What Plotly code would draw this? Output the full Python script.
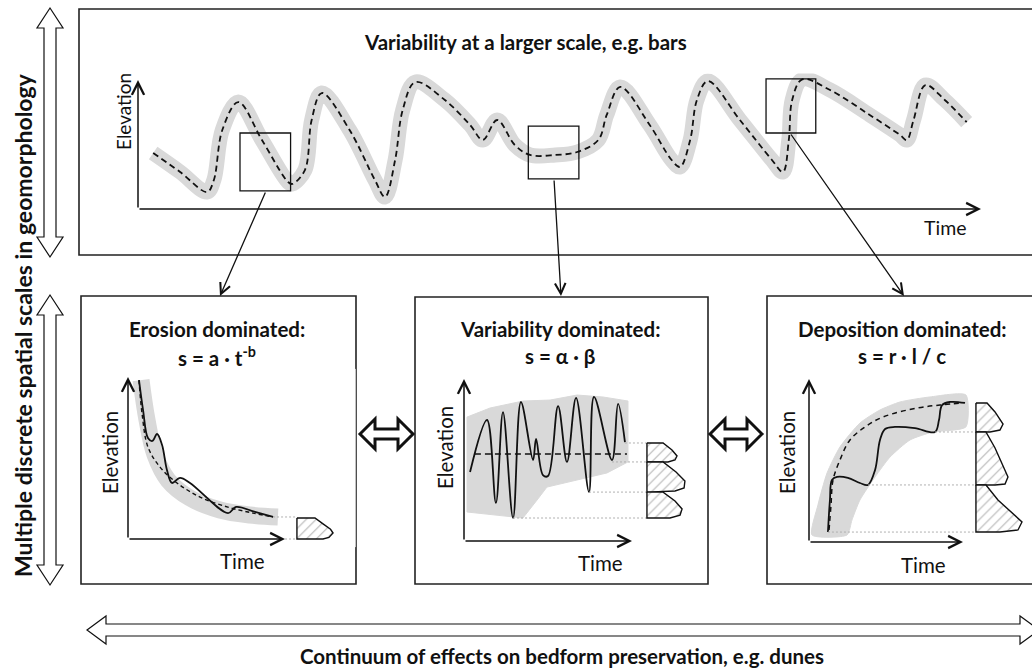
import plotly.graph_objects as go

W, H = 1032, 668

# ---------------- data ----------------
# top panel: large-scale elevation record (time 0-10, elevation 0-10)
TOP_TIME = [0.18, 0.50, 0.82, 0.90, 1.00, 1.19, 1.47, 1.78, 1.83, 1.98, 2.06, 2.18,
            2.51, 2.81, 2.93, 3.05, 3.14, 3.29, 3.64, 3.94, 4.09, 4.26, 4.47, 4.65,
            4.95, 5.21, 5.46, 5.56, 5.72, 6.07, 6.33, 6.43, 6.55, 6.63, 6.76, 7.14,
            7.52, 7.65, 7.72, 7.76, 7.88, 8.21, 8.68, 9.04, 9.12, 9.20, 9.34, 9.57, 9.83]
TOP_ELEV = [4.34, 2.87, 1.32, 2.25, 6.12, 8.29, 5.35, 2.09, 1.94, 3.02, 6.90, 8.99,
            6.12, 2.25, 0.93, 3.80, 7.67, 9.84, 8.45, 6.51, 5.35, 6.90, 4.96, 4.19,
            4.19, 4.42, 5.35, 7.29, 9.46, 6.51, 3.80, 3.26, 5.35, 8.45, 9.92, 6.90,
            3.80, 2.87, 5.35, 8.45, 10.05, 9.22, 7.29, 5.74, 5.35, 6.90, 9.61, 8.45, 6.74]
# zoom windows on the top record: [t0, t1, e0, e1]
ZOOM_BOXES = [[1.21, 1.81, 1.40, 5.89], [4.63, 5.23, 2.33, 6.43], [7.45, 8.04, 5.89, 10.08]]

# erosion dominated panel
ERO_DASH_T = [0.70, 0.89, 1.27, 2.04, 3.12, 4.59, 6.31, 7.96, 9.24]
ERO_DASH_E = [9.81, 7.78, 5.68, 4.44, 3.46, 2.59, 1.98, 1.60, 1.36]
ERO_SOLID_T = [0.70, 0.96, 1.27, 1.55, 1.85, 2.17, 2.48, 2.80, 3.31, 3.95, 6.37, 6.88, 8.09, 9.24]
ERO_SOLID_E = [9.81, 7.96, 6.23, 6.05, 6.48, 5.80, 4.26, 3.46, 3.77, 3.46, 1.60, 1.98, 1.67, 1.36]
ERO_BAND_T = [0.83, 1.21, 1.72, 2.55, 3.95, 5.86, 7.77, 9.55]
ERO_BAND_E = [9.81, 7.35, 5.19, 3.64, 2.53, 1.79, 1.48, 1.36]
ERO_HATCH_T = [[10.76, 11.91, 12.40, 12.90, 13.06, 12.80, 12.42, 10.76, 10.76]]
ERO_HATCH_E = [[1.30, 1.30, 0.95, 0.60, 0.37, 0.10, 0.00, 0.00, 1.30]]
ERO_GUIDES = [[9.24, 1.36], [10.0, 0.0]]   # [start time, level] of dotted guides

# variability dominated panel
VAR_T = [0.36, 1.37, 1.90, 2.32, 2.92, 3.39, 4.11, 4.29, 4.70, 5.00, 5.60, 6.13,
         6.67, 7.44, 7.74, 8.81, 9.17, 9.58]
VAR_E = [4.26, 7.47, 2.35, 7.96, 1.42, 8.58, 5.00, 6.30, 4.07, 4.01, 8.33, 4.88,
         8.83, 3.02, 8.89, 5.00, 8.46, 6.11]
VAR_MEAN_T = [0.65, 9.70]
VAR_MEAN_E = [5.37, 5.37]
VAR_BAND_T = [0.18, 1.55, 3.51, 5.12, 6.73, 8.27, 9.76, 9.76, 8.51, 6.73, 4.94, 4.35, 3.51, 0.18, 0.18]
VAR_BAND_E = [7.65, 8.21, 8.64, 8.70, 9.01, 8.89, 8.64, 4.88, 4.20, 3.77, 3.33, 2.53, 1.42, 1.79, 7.65]
VAR_HATCH_T = [[10.89, 11.85, 12.38, 12.68, 12.56, 12.14, 10.89, 10.89],
               [10.89, 11.85, 12.62, 13.15, 13.10, 12.56, 10.89, 10.89],
               [10.89, 11.85, 12.56, 12.98, 12.86, 12.26, 10.89, 10.89]]
VAR_HATCH_E = [[6.05, 6.05, 5.62, 5.25, 5.00, 4.88, 4.88, 6.05],
               [4.88, 4.88, 4.26, 3.70, 3.27, 3.09, 3.02, 4.88],
               [3.02, 3.02, 2.47, 1.98, 1.60, 1.42, 1.42, 3.02]]
VAR_GUIDES = [[9.58, 6.05], [8.81, 4.88], [7.44, 3.02], [2.92, 1.42]]

# deposition dominated panel
DEP_DASH_T = [1.30, 1.43, 1.56, 2.01, 2.66, 3.64, 4.81, 7.01, 8.51, 10.0]
DEP_DASH_E = [0.74, 2.27, 3.80, 5.03, 6.26, 7.06, 7.67, 8.22, 8.40, 8.53]
DEP_SOLID_T = [1.23, 1.36, 1.49, 1.82, 2.53, 3.31, 3.83, 4.29, 4.61, 4.94, 5.58, 6.88,
               8.18, 8.44, 8.64, 9.16, 10.13]
DEP_SOLID_E = [0.61, 2.58, 3.80, 3.99, 3.93, 3.62, 3.50, 4.42, 6.26, 6.93, 7.06, 6.99,
               6.75, 7.48, 8.40, 8.59, 8.53]
DEP_BAND_T = [0.19, 0.58, 1.17, 2.01, 3.31, 4.61, 5.91, 7.86, 10.19, 10.19, 8.05, 6.56,
              5.26, 4.29, 3.31, 2.79, 2.47, 0.19]
DEP_BAND_E = [0.43, 2.27, 4.23, 5.83, 7.30, 8.10, 8.59, 8.90, 9.02, 7.06, 6.75, 6.26,
              5.21, 3.99, 2.58, 1.35, 0.43, 0.43]
DEP_HATCH_T = [[10.84, 11.56, 12.08, 12.60, 12.40, 11.75, 10.84, 10.84],
               [10.84, 11.49, 12.08, 12.60, 12.92, 12.73, 12.08, 10.84, 10.84],
               [10.84, 11.49, 12.27, 13.38, 13.83, 13.57, 12.40, 10.84, 10.84]]
DEP_HATCH_E = [[8.53, 8.53, 7.98, 7.24, 6.87, 6.75, 6.75, 8.53],
               [6.75, 6.75, 5.77, 4.72, 3.99, 3.56, 3.50, 3.50, 6.75],
               [3.50, 3.50, 2.58, 1.66, 1.23, 0.74, 0.61, 0.61, 3.50]]
DEP_GUIDES = [[8.18, 6.75], [3.83, 3.50], [1.23, 0.61]]

# texts
TOP_TITLE = "Variability at a larger scale, e.g. bars"
PANEL_TITLES = ["Erosion dominated:", "Variability dominated:", "Deposition dominated:"]
PANEL_EQS = ["s = a · t<sup>-b</sup>", "s = α · β", "s = r · l / c"]
LEFT_LABEL = "Multiple discrete spatial scales in geomorphology"
BOTTOM_LABEL = "Continuum of effects on bedform preservation, e.g. dunes"

# ---------------- styles ----------------
FONT = "Lato"
BAND = "#d9d9d9"
INK = "#111111"
GUIDE = "#b0b0b0"
BOLD_SIZE = 20.5
REG_SIZE = 20.5

fig = go.Figure()

# overlay pixel axis for the diagram frame
fig.update_layout(
    xaxis=dict(domain=[0, 1], range=[0, W], visible=False, fixedrange=True),
    yaxis=dict(domain=[0, 1], range=[H, 0], visible=False, fixedrange=True),
)

def panel_axes(idx, ox, oy, sx, sy, xr, yr):
    x0 = ox + xr[0] * sx
    x1 = ox + xr[1] * sx
    ytop = oy - yr[1] * sy
    ybot = oy - yr[0] * sy
    fig.update_layout(**{
        f"xaxis{idx}": dict(domain=[x0 / W, x1 / W], range=xr, visible=False,
                            anchor=f"y{idx}", fixedrange=True),
        f"yaxis{idx}": dict(domain=[(H - ybot) / H, (H - ytop) / H], range=yr,
                            visible=False, anchor=f"x{idx}", fixedrange=True),
    })

panel_axes(2, 138, 209, 84.3, 12.9, [-0.1, 10.2], [-0.5, 10.5])
panel_axes(3, 128, 539, 15.7, 16.2, [-0.5, 14.5], [-0.5, 10.5])
panel_axes(4, 464, 541, 16.8, 16.2, [-0.5, 13.8], [-0.5, 10.5])
panel_axes(5, 809, 542, 15.4, 16.3, [-0.5, 14.2], [-0.5, 10.5])

def ax(i):
    return dict(xaxis=f"x{i}", yaxis=f"y{i}")

common = dict(mode="lines", hoverinfo="skip", showlegend=False)

# ---- top panel ----
fig.add_trace(go.Scatter(x=TOP_TIME, y=TOP_ELEV, line=dict(color=BAND, width=15, shape="spline"),
                         **common, **ax(2)))
fig.add_trace(go.Scatter(x=TOP_TIME, y=TOP_ELEV,
                         line=dict(color=INK, width=1.8, shape="spline", dash="6px,4px"),
                         **common, **ax(2)))
for b in ZOOM_BOXES:
    fig.add_shape(type="rect", xref="x2", yref="y2", x0=b[0], x1=b[1], y0=b[2], y1=b[3],
                  line=dict(color=INK, width=1.3), fillcolor="rgba(0,0,0,0)")

# ---- erosion panel ----
fig.add_trace(go.Scatter(x=ERO_BAND_T, y=ERO_BAND_E, line=dict(color=BAND, width=17, shape="spline"),
                         **common, **ax(3)))
fig.add_trace(go.Scatter(x=ERO_DASH_T, y=ERO_DASH_E,
                         line=dict(color=INK, width=1.4, shape="spline", dash="4px,3px"),
                         **common, **ax(3)))
fig.add_trace(go.Scatter(x=ERO_SOLID_T, y=ERO_SOLID_E, line=dict(color=INK, width=1.8, shape="spline"),
                         **common, **ax(3)))

# ---- variability panel ----
fig.add_trace(go.Scatter(x=VAR_BAND_T, y=VAR_BAND_E, fill="toself", fillcolor=BAND,
                         line=dict(color=BAND, width=1), **common, **ax(4)))
fig.add_trace(go.Scatter(x=VAR_MEAN_T, y=VAR_MEAN_E, line=dict(color=INK, width=1.5, dash="6px,4px"),
                         **common, **ax(4)))
fig.add_trace(go.Scatter(x=VAR_T, y=VAR_E, line=dict(color=INK, width=1.8, shape="spline"),
                         **common, **ax(4)))

# ---- deposition panel ----
fig.add_trace(go.Scatter(x=DEP_BAND_T, y=DEP_BAND_E, fill="toself", fillcolor=BAND,
                         line=dict(color=BAND, width=1, shape="spline", smoothing=0.6),
                         **common, **ax(5)))
fig.add_trace(go.Scatter(x=DEP_DASH_T, y=DEP_DASH_E,
                         line=dict(color=INK, width=1.5, shape="spline", dash="5px,4px"),
                         **common, **ax(5)))
fig.add_trace(go.Scatter(x=DEP_SOLID_T, y=DEP_SOLID_E, line=dict(color=INK, width=1.8, shape="spline"),
                         **common, **ax(5)))

# guides + hatched preservation shapes
def guides_and_hatches(i, guides, x_end, hatch_t, hatch_e):
    for g in guides:
        fig.add_trace(go.Scatter(x=[g[0], x_end], y=[g[1], g[1]],
                                 line=dict(color=GUIDE, width=1, dash="2px,2px"), **common, **ax(i)))
    for ht, he in zip(hatch_t, hatch_e):
        fig.add_trace(go.Scatter(x=ht, y=he, fill="toself", fillcolor="white",
                                 fillpattern=dict(shape="/", fgcolor="#666666", bgcolor="white",
                                                  size=7, solidity=0.15),
                                 line=dict(color=INK, width=1.4), **common, **ax(i)))

guides_and_hatches(3, ERO_GUIDES, ERO_HATCH_T[0][0], ERO_HATCH_T, ERO_HATCH_E)
guides_and_hatches(4, VAR_GUIDES, VAR_HATCH_T[0][0], VAR_HATCH_T, VAR_HATCH_E)
guides_and_hatches(5, DEP_GUIDES, DEP_HATCH_T[0][0], DEP_HATCH_T, DEP_HATCH_E)

# ---------------- frame: boxes, arrows, labels ----------------
annotations = []

def arrow(x, y, axx, ayy, ref, width=1.5, size=1.6):
    annotations.append(dict(x=x, y=y, ax=axx, ay=ayy, xref=ref[0], yref=ref[1],
                            axref=ref[0], ayref=ref[1], text="", showarrow=True,
                            arrowhead=5, arrowsize=size, arrowwidth=width, arrowcolor=INK))

# panel axes with open arrow heads
for i in (2, 3, 4, 5):
    arrow(10, 0, 0, 0, (f"x{i}", f"y{i}"))
    arrow(0, 10, 0, 0, (f"x{i}", f"y{i}"))

# connectors from zoom windows to panels
arrow(220, 296, 266, 191, ("x", "y"), width=1.3)
arrow(561, 296, 554, 179, ("x", "y"), width=1.3)
arrow(904, 296, 790, 133, ("x", "y"), width=1.3)

# boxes
for (x0, y0, x1, y1) in [(79, 9, 1045, 255), (81, 296, 356, 584),
                         (415, 297, 708, 584), (767, 296, 1045, 584)]:
    fig.add_shape(type="rect", xref="x", yref="y", x0=x0, y0=y0, x1=x1, y1=y1,
                  line=dict(color="#222222", width=1.6), fillcolor="rgba(0,0,0,0)", layer="below")

def vdouble(cx, ytop, ybot, hw=13, sw=6, hl=20, lw=1.2):
    p = (f"M {cx},{ytop} L {cx+hw},{ytop+hl} L {cx+sw},{ytop+hl} L {cx+sw},{ybot-hl} "
         f"L {cx+hw},{ybot-hl} L {cx},{ybot} L {cx-hw},{ybot-hl} L {cx-sw},{ybot-hl} "
         f"L {cx-sw},{ytop+hl} L {cx-hw},{ytop+hl} Z")
    fig.add_shape(type="path", path=p, xref="x", yref="y", line=dict(color=INK, width=lw),
                  fillcolor="white")

def hdouble(xl, xr, cy, hh=14, sh=6, hl=19, lw=1.2):
    p = (f"M {xl},{cy} L {xl+hl},{cy-hh} L {xl+hl},{cy-sh} L {xr-hl},{cy-sh} "
         f"L {xr-hl},{cy-hh} L {xr},{cy} L {xr-hl},{cy+hh} L {xr-hl},{cy+sh} "
         f"L {xl+hl},{cy+sh} L {xl+hl},{cy+hh} Z")
    fig.add_shape(type="path", path=p, xref="x", yref="y", line=dict(color=INK, width=lw),
                  fillcolor="white")

vdouble(50, 8, 257)
vdouble(50, 295, 585)
hdouble(87, 1039, 630)
hdouble(360, 413, 434, hh=15, sh=5, hl=15, lw=3)
hdouble(710, 762, 434, hh=15, sh=5, hl=15, lw=3)

def label(x, y, text, size, bold=False, angle=0):
    annotations.append(dict(x=x, y=y, xref="x", yref="y", text=f"<b>{text}</b>" if bold else text,
                            showarrow=False, textangle=angle,
                            font=dict(family=FONT, size=size, color=INK),
                            xanchor="center", yanchor="middle"))

label(525, 42, TOP_TITLE, BOLD_SIZE, bold=True)
label(23, 325, LEFT_LABEL, 23, bold=True, angle=-90)
label(562, 656, BOTTOM_LABEL, BOLD_SIZE, bold=True)

for cx, title, eq in zip([217, 560, 902], PANEL_TITLES, PANEL_EQS):
    label(cx, 329, title, BOLD_SIZE, bold=True)
    label(cx, 356, eq, BOLD_SIZE, bold=True)

# axis captions
label(123, 112, "Elevation", REG_SIZE - 1.5, angle=-90)
label(945, 227, "Time", REG_SIZE - 1)
label(110, 453, "Elevation", REG_SIZE, angle=-90)
label(242, 561, "Time", REG_SIZE)
label(445, 448, "Elevation", REG_SIZE, angle=-90)
label(600, 563, "Time", REG_SIZE)
label(787, 453, "Elevation", REG_SIZE, angle=-90)
label(923, 565, "Time", REG_SIZE)

fig.update_layout(annotations=annotations, width=W, height=H, autosize=False,
                  margin=dict(l=0, r=0, t=0, b=0), paper_bgcolor="white", plot_bgcolor="white")

fig.write_html("out.html", config={"displayModeBar": False},
               post_script="document.body.style.margin='0';document.body.style.padding='0';"
                           "document.body.style.overflow='hidden';")
